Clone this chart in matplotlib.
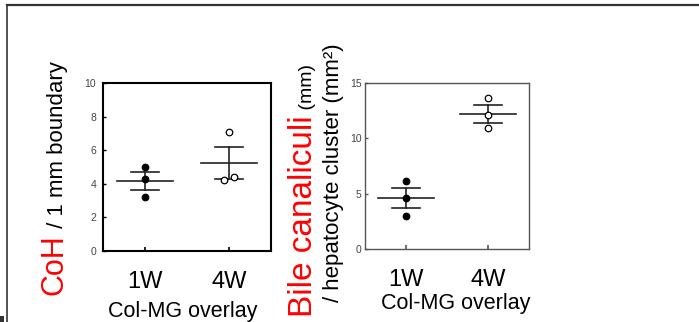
import numpy as np
import matplotlib
matplotlib.use("Agg")
import matplotlib.pyplot as plt
from matplotlib.lines import Line2D
from matplotlib.patches import Rectangle

plt.rcParams['font.family'] = ['Liberation Sans', 'DejaVu Sans']

groups = ["1W", "4W"]
xlabel = "Col-MG overlay"

# Panel 1: CoH / 1 mm boundary
coh_1w = [5.0, 4.3, 3.2]
coh_4w = [7.1, 4.2, 4.4]
coh_jitter_1w = [0.0, 0.0, 0.0]
coh_jitter_4w = [0.0, -0.06, 0.06]
coh_yticks = [0, 2, 4, 6, 8, 10]

# Panel 2: Bile canaliculi / hepatocyte cluster
bc_1w = [6.15, 4.65, 3.0]
bc_4w = [13.6, 12.1, 10.9]
bc_jitter_1w = [0.0, 0.0, 0.0]
bc_jitter_4w = [0.0, 0.0, 0.0]
bc_yticks = [0, 5, 10, 15]

W, H = 699, 322
fig = plt.figure(figsize=(W / 100, H / 100), dpi=100)

def px_axes(l, t, r, b):
    return fig.add_axes([l / W, 1 - b / H, (r - l) / W, (b - t) / H])

# frame lines of the slide
fig.add_artist(Line2D([7 / W, 1], [1 - 5 / H, 1 - 5 / H], color='#333333', lw=1.6))
fig.add_artist(Line2D([7 / W, 7 / W], [0, 1 - 5 / H], color='#333333', lw=1.2))
fig.add_artist(Rectangle((0, 0), 4 / W, 6 / H, transform=fig.transFigure,
                         facecolor='#333333', edgecolor='none'))


def draw_panel(ax, data, jit, ylim, yticks, spine_color, spine_lw,
               mean_hw, cap_hw):
    fills = ['black', 'white']
    for i, (vals, jj) in enumerate(zip(data, jit)):
        x = i + 1
        vals = np.array(vals)
        m = vals.mean()
        sem = vals.std(ddof=1) / np.sqrt(len(vals))
        ax.plot([x - mean_hw, x + mean_hw], [m, m], color='#222222', lw=1.2, zorder=2)
        ax.plot([x, x], [m - sem, m + sem], color='#222222', lw=1.2, zorder=2)
        for yv in (m - sem, m + sem):
            ax.plot([x - cap_hw, x + cap_hw], [yv, yv], color='#222222', lw=1.2, zorder=2)
        ax.scatter(np.full(len(vals), x) + np.array(jj), vals, s=22,
                   facecolor=fills[i], edgecolor='black', linewidth=0.9, zorder=3)
    ax.set_xlim(0.5, 2.5)
    ax.set_ylim(*ylim)
    ax.set_yticks(yticks)
    ax.set_xticks([1, 2])
    ax.set_xticklabels(groups, fontsize=17)
    for s in ax.spines.values():
        s.set_color(spine_color)
        s.set_linewidth(spine_lw)
    ax.tick_params(axis='x', direction='in', length=3, width=1.2, pad=14.5,
                   color=spine_color)


ax1 = px_axes(103, 83, 271, 251)
draw_panel(ax1, [coh_1w, coh_4w], [coh_jitter_1w, coh_jitter_4w], (0, 10),
           coh_yticks, 'black', 1.5, 0.33, 0.165)
ax1.tick_params(axis='y', direction='in', length=2, width=1, labelsize=7.5,
                labelcolor='#444444', pad=5, color='black')
ax1.set_xlabel(xlabel, fontsize=15.5)
ax1.xaxis.set_label_coords(0.476, -0.297)

ax2 = px_axes(365, 83, 529, 249)
draw_panel(ax2, [bc_1w, bc_4w], [bc_jitter_1w, bc_jitter_4w], (0, 15),
           bc_yticks, '#555555', 1.0, 0.34, 0.17)
ax2.tick_params(axis='y', direction='in', length=2, width=1, labelsize=7.5,
                labelcolor='#444444', pad=2.5, color='#555555')
ax2.set_xlabel(xlabel, fontsize=15.5)
ax2.xaxis.set_label_coords(0.55, -0.265)

fig.canvas.draw()
renderer = fig.canvas.get_renderer()


def rotated_segments(x_px, y_px, segments):
    """segments: list of (text, size, color); stacked upward with rotation 90."""
    y = y_px
    for txt, size, color in segments:
        t = fig.text(x_px / W, 1 - y / H, txt, rotation=90, rotation_mode='anchor',
                     ha='left', va='baseline', fontsize=size, color=color)
        bb = t.get_window_extent(renderer)
        y -= bb.height


rotated_segments(63, 295, [("CoH", 22, 'red'), (" / 1 mm boundary", 16, 'black')])
rotated_segments(312, 317, [("Bile canaliculi", 24, 'red'), (" (mm)", 14, 'black')])
rotated_segments(339, 302, [("/ hepatocyte cluster (mm²)", 16, 'black')])

fig.savefig("out.png", dpi=100)
